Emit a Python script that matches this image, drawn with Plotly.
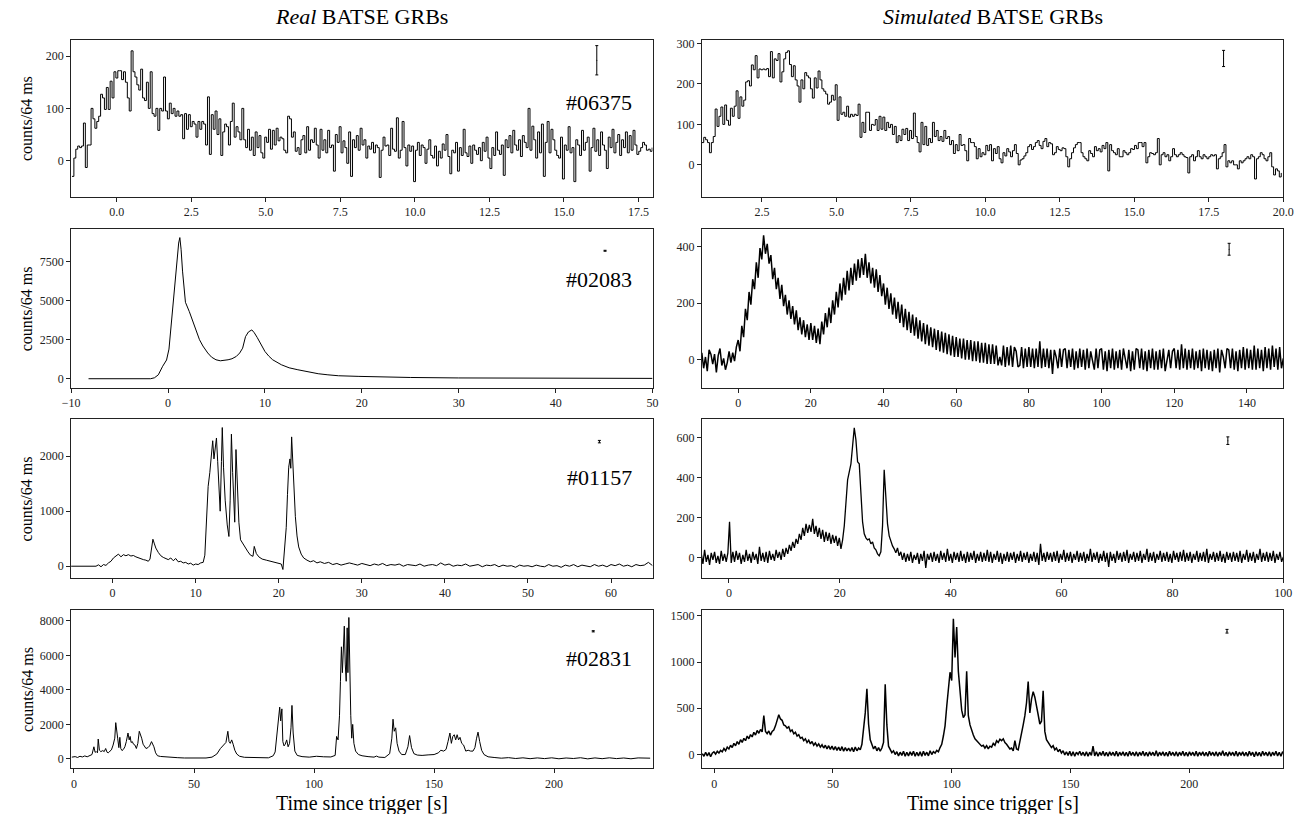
import plotly.graph_objects as go

W, H = 1313, 814
FONT = "Liberation Serif, DejaVu Serif, serif"

# ---------------- data (counts per 64 ms bin) ----------------
# Panel A: real GRB #06375, 64 ms bins starting at t0_a
t0_a, dt_a = -1.5, 0.064
counts_a = [
    -30, 5, 22, 28, 25, 28, 72, -13, 30, 30,
    100, 80, 62, 75, 85, 127, 120, 98, 140, 98,
    152, 120, 170, 158, 172, 172, 155, 170, 150, 120,
    95, 210, 170, 160, 145, 135, 175, 120, 115, 150,
    100, 170, 90, 85, 100, 58, 100, 95, 160, 95,
    80, 110, 90, 100, 85, 95, 85, 88, 42, 90,
    60, 88, 65, 75, 70, 45, 75, 60, 75, 70,
    30, 122, 12, 88, 60, 95, 50, 80, 10, 55,
    70, 65, 30, 75, 110, 45, 65, 55, 40, 100,
    40, 25, 60, 20, 45, 10, 55, 25, 48, 15,
    5, 45, 35, 60, 22, 58, 30, 62, 38, 45,
    42, 20, 15, 85, 80, 45, 55, 18, 25, 12,
    40, 48, 15, 65, 20, 40, 35, 62, 30, 5,
    60, 20, 40, 15, 58, 25, 30, -20, 50, 35,
    65, 15, 38, 25, -5, 55, -30, 40, 25, 48,
    20, 62, 30, 40, 5, 28, 22, 35, 15, 30,
    25, -32, 20, 45, 28, 30, 10, 62, 22, 18,
    82, 5, 20, 75, 25, -10, 30, 18, 28, -40,
    20, 35, 10, 30, 25, -5, 22, 40, 10, 5,
    28, -10, 18, 5, 32, 20, 50, 8, -25, 20,
    15, 35, -20, 25, 10, 60, 15, 8, 28, -5,
    30, 20, 12, 25, 0, 35, 18, 45, 5, -15,
    25, 10, 55, 20, 12, 30, -28, 40, 25, 48,
    15, 58, 30, 20, 40, 8, 48, 35, 25, 100,
    20, 66, 40, 5, 55, 15, 70, -30, 35, 75,
    15, 60, 40, 20, 10, 5, 45, -35, 30, 20,
    65, 15, 25, -40, 40, 30, 10, 58, 20, 35,
    45, -20, 25, 62, 18, 40, 10, 55, 30, 20,
    -15, 45, 25, 60, 15, 35, 50, 10, 40, 25,
    55, 15, 48, 20, 58, 30, 12, 18, 25, 35,
    30, 20, 22, 18, 25,
]

# Panel B: simulated counterpart of #06375, 64 ms bins
t0_b, dt_b = 0.48, 0.064
counts_b = [
    55, 68, 62, 55, 30, 55, 70, 138, 95, 120,
    143, 100, 148, 110, 98, 140, 120, 145, 183, 115,
    168, 145, 160, 205, 208, 195, 247, 235, 270, 215,
    237, 235, 237, 235, 238, 218, 280, 215, 262, 258,
    275, 205, 230, 262, 278, 282, 248, 218, 245, 210,
    195, 155, 210, 188, 228, 220, 215, 188, 165, 215,
    190, 232, 210, 188, 182, 175, 150, 155, 172, 160,
    198, 110, 168, 125, 130, 120, 145, 118, 125, 120,
    125, 122, 150, 68, 105, 80, 130, 130, 85, 100,
    98, 112, 85, 120, 88, 118, 85, 105, 92, 100,
    75, 95, 55, 72, 60, 88, 75, 90, 60, 85,
    65, 128, 70, 55, 32, 105, 50, 95, 48, 65,
    55, 105, 70, 85, 60, 70, 58, 85, 65, 70,
    50, 60, 28, 50, 35, 75, 48, 50, 35, 10,
    65, 55, 55, 45, 15, 40, 20, 30, 25, 48,
    35, 50, 10, 40, 28, 45, 15, 5, 30, 22,
    40, 32, 20, 35, 50, 28, 0, 12, 15, 22,
    30, 45, 50, 38, 45, 55, 60, 48, 40, 58,
    65, 45, 55, 52, 25, 30, 45, 38, 35, 42,
    40, 20, -5, 15, 30, 42, 50, 55, 55, 30,
    20, 15, 10, 35, 28, 20, 45, 35, 40, 32,
    48, 40, 55, -15, 50, 35, 30, 25, 40, 20,
    20, 35, 30, 25, 30, 40, 38, 48, 40, 55,
    55, 45, 55, 5, 20, 30, 28, 25, 30, 65,
    0, 25, 30, 20, 25, 10, 20, 40, 25, 20,
    25, 30, 25, 20, 18, -20, 20, 25, 10, 20,
    35, 20, 15, 25, 20, 15, 20, 25, 22, 25,
    -10, 15, 20, 30, 50, -5, 10, 5, 10, 0,
    0, -10, 10, 5, 10, 15, 20, 15, 25, 20,
    -35, 15, 20, 30, 25, 15, 10, 20, 30, -5,
    -25, -10, -15, -30, -20,
]

# Panel C: real GRB #02083, (time [s], counts) samples
curve_c = [
    (-8.2, 0), (-1.8, 0), (-1.4, 60), (-1.0, 250), (-0.55, 800), (-0.15, 1200),
    (0.1, 1900), (0.3, 3200), (0.5, 4800), (0.7, 6000), (0.9, 7600), (1.1, 8700),
    (1.22, 9050), (1.35, 8300), (1.5, 6900), (1.65, 5600), (1.8, 4900), (2.2, 4300),
    (2.6, 3600), (3.0, 2900), (3.25, 2500), (3.6, 2100), (4.1, 1650), (4.5, 1380),
    (4.95, 1215), (5.4, 1150), (5.8, 1170), (6.2, 1215), (6.6, 1280), (7.05, 1430),
    (7.4, 1650), (7.7, 1960), (8.0, 2700), (8.3, 3000), (8.65, 3130), (8.9, 2950),
    (9.2, 2650), (9.6, 2200), (10.0, 1750), (10.4, 1450), (10.8, 1215), (11.7, 895),
    (12.5, 700), (13.4, 575), (14.5, 430), (15.5, 320), (16.5, 250), (17.6, 190),
    (19.7, 150), (22.0, 110), (25.0, 80), (30.0, 50), (35.0, 40), (40.0, 30),
    (45.0, 25), (50.0, 20),
]

# Panel D: simulated counterpart of #02083, samples every 0.5 s
t0_d, dt_d = -10.0, 0.5
counts_d = [
    25, -30, 10, -40, 35, 20, -15, 20, -45, 15,
    40, -20, 5, -35, -10, 30, -10, 25, -5, 45,
    70, 30, 120, 80, 180, 140, 240, 195, 285, 250,
    345, 290, 395, 355, 440, 375, 410, 340, 370, 285,
    325, 250, 290, 215, 265, 190, 230, 160, 210, 145,
    190, 125, 175, 105, 150, 90, 140, 80, 125, 70,
    130, 70, 120, 60, 110, 55, 135, 90, 165, 115,
    185, 130, 210, 160, 240, 185, 270, 210, 290, 230,
    315, 245, 325, 265, 340, 280, 355, 290, 360, 300,
    375, 290, 345, 270, 325, 255, 320, 240, 300, 225,
    270, 195, 255, 180, 235, 160, 220, 145, 205, 130,
    195, 115, 180, 105, 170, 95, 160, 85, 150, 75,
    140, 65, 130, 55, 125, 50, 115, 45, 110, 35,
    105, 30, 100, 25, 95, 20, 90, 15, 85, 10,
    80, 10, 75, 5, 75, 0, 70, 0, 70, -5,
    65, -5, 65, -10, 60, -10, 60, -15, 55, -15,
    55, -15, 50, -20, 10, -20, 50, -25, 45, -20,
    50, -25, 45, 30, -25, -20, 45, -30, 40, -25,
    45, -25, 40, -30, 40, -25, 65, -30, 40, -25,
    40, -30, 35, -50, 35, 10, -30, 40, -25, 35,
    40, -30, 35, -25, 40, -35, 30, -30, 40, -25,
    35, -35, 40, -30, 30, -5, -35, 40, -30, 35,
    40, -35, 30, -40, 35, -30, 40, -35, 30, -30,
    35, -35, 40, 5, -30, 35, -40, 30, -35, 40,
    35, -30, 40, -35, 30, -40, 35, -30, 40, -35,
    30, -35, 35, -30, 40, -40, 0, 35, -30, 30,
    40, -30, 35, -35, 55, -30, 40, -35, 35, -30,
    40, -35, 30, -30, 35, -40, 40, -30, 35, -35,
    30, -40, 35, -30, 40, -45, 35, 10, -30, 40,
    35, -30, 40, -35, 30, -40, 35, -30, 45, -35,
    40, -30, 35, -35, 50, -35, 40, -30, 35, -40,
    45, -30, 40, -35, 50, -25, 40, -35, 45, -30, 5,
]

# Panel E: real GRB #01157, (time [s], counts) samples
curve_e = [
    (-5.0, 0), (-2.0, 0), (-1.7, 25), (-1.4, -10), (-1.1, 30), (-0.8, 15), (-0.5, 60),
    (-0.2, 90), (0.1, 150), (0.4, 190), (0.7, 220), (1.0, 170), (1.3, 210), (1.6, 190),
    (1.9, 210), (2.2, 185), (2.5, 195), (2.8, 170), (3.1, 150), (3.4, 140), (3.7, 120),
    (4.0, 110), (4.3, 90), (4.5, 130), (4.7, 380), (4.85, 490), (5.0, 420), (5.2, 330),
    (5.5, 250), (5.8, 190), (6.1, 160), (6.4, 140), (6.7, 120), (7.0, 150), (7.3, 100),
    (7.6, 140), (7.9, 80), (8.2, 90), (8.5, 60), (8.8, 70), (9.1, 40), (9.4, 55),
    (9.7, 20), (10.0, 40), (10.3, 30), (10.6, 60), (10.9, 70), (11.1, 200), (11.3, 800),
    (11.5, 1450), (11.7, 1700), (11.9, 2100), (12.05, 2280), (12.2, 1950), (12.35, 2100),
    (12.5, 2330), (12.65, 1900), (12.8, 1300), (12.95, 1000), (13.1, 1900), (13.2, 2520),
    (13.35, 1800), (13.55, 1200), (13.8, 750), (14.0, 540), (14.15, 1200), (14.3, 2400),
    (14.45, 1700), (14.6, 1000), (14.7, 800), (14.85, 2120), (15.0, 1400), (15.2, 800),
    (15.4, 480), (15.7, 400), (16.0, 330), (16.3, 260), (16.6, 200), (16.9, 180),
    (17.05, 360), (17.3, 230), (17.6, 170), (18.0, 130), (18.5, 110), (19.0, 90),
    (19.5, 70), (20.0, 60), (20.3, 40), (20.5, -60), (20.7, 300), (20.9, 700),
    (21.05, 1300), (21.2, 1800), (21.35, 1950), (21.45, 1780), (21.55, 2350), (21.7, 1800),
    (21.85, 1300), (22.0, 900), (22.2, 550), (22.4, 350), (22.7, 220), (23.0, 150),
    (23.4, 110), (23.8, 80), (24.2, 100), (24.6, 60), (25.0, 80), (25.5, 50), (26.0, 70),
    (26.5, 30), (27.0, 50), (27.5, 20), (28.0, 40), (28.5, 60), (29.0, 40), (29.5, 20),
    (30.0, 50), (30.5, 30), (31.0, 10), (31.5, 40), (32.0, 20), (32.5, 50), (33.0, 10),
    (33.5, 30), (34.0, 20), (34.5, 40), (35.0, 0), (35.5, 30), (36.0, 20), (36.5, 10),
    (37.0, 40), (37.5, 0), (38.0, 20), (38.5, 30), (39.0, 10), (39.5, 60), (40.0, 20),
    (40.5, 40), (41.0, 0), (41.5, 20), (42.0, 10), (42.5, 40), (43.0, 0), (43.5, 20),
    (44.0, 30), (44.5, -10), (45.0, 20), (45.5, 10), (46.0, 30), (46.5, -10), (47.0, 20),
    (47.5, 0), (48.0, 10), (48.5, -20), (49.0, 20), (49.5, 0), (50.0, 10), (50.5, -10),
    (51.0, 20), (51.5, 0), (52.0, -10), (52.5, 30), (53.0, 0), (53.5, 10), (54.0, -20),
    (54.5, 20), (55.0, 0), (55.5, 30), (56.0, -10), (56.5, 20), (57.0, 10), (57.5, -10),
    (58.0, 30), (58.5, 0), (59.0, 20), (59.5, -10), (60.0, 30), (60.5, 10), (61.0, 40),
    (61.5, 0), (62.0, 20), (62.5, -10), (63.0, 30), (63.5, 10), (64.0, 20), (64.5, 70),
    (65.0, 10),
]

# Panel F: simulated counterpart of #01157, samples every 0.3 s
t0_f, dt_f = -5.0, 0.3
counts_f = [
    20, -30, 40, -20, 15, -35, 25, -10, 30, -25,
    10, -30, 35, -15, 20, -20, 25, 180, -25, 30,
    -20, 35, -10, 25, -30, 15, -20, 40, -15, 20,
    -25, 30, -10, 20, -30, 55, -15, 25, -20, 30,
    -25, 35, -10, 20, -15, 40, 0, 30, -10, 45,
    5, 50, 20, 65, 35, 80, 50, 95, 70, 120,
    90, 150, 110, 170, 125, 165, 130, 195, 120, 160,
    105, 150, 95, 140, 80, 130, 85, 125, 70, 115,
    75, 110, 60, 100, 45, 90, 160, 260, 390, 430,
    470, 560, 650, 590, 480, 470, 300, 180, 120, 100,
    90, 95, 70, 80, 50, 40, 20, 10, 30, 160,
    440, 320, 170, 110, 80, 60, 45, 25, 50, 10,
    30, -10, 25, -20, 20, -15, 30, -25, 15, -10,
    25, -30, 20, -15, 35, -50, 20, -10, 25, -20,
    30, -15, 20, -25, 35, -10, 25, -20, 45, -15,
    20, -25, 30, -10, 25, -20, 35, -15, 20, -25,
    30, -20, 25, -10, 35, -25, 20, -15, 30, -20,
    25, -15, 40, -20, 30, -25, 20, -10, 35, -20,
    25, -30, 20, -15, 30, -20, 25, -10, 30, -25,
    20, -15, 35, -20, 25, -10, 30, -25, 20, -15,
    30, -20, 25, -35, 70, -15, 25, -20, 30, -10,
    25, -20, 30, -15, 35, -25, 20, -10, 40, -20,
    25, -15, 30, -25, 20, -10, 35, -20, 25, -15,
    30, -25, 20, -15, 45, -20, 25, -10, 30, -25,
    20, -15, 35, -20, 25, -45, 30, -15, 20, -25,
    35, -10, 25, -20, 30, -15, 40, -25, 20, -10,
    30, -20, 25, -15, 35, -25, 20, -10, 45, -20,
    25, -15, 30, -25, 20, -10, 35, -20, 25, -15,
    30, -20, 20, -25, 35, -10, 25, -20, 30, -15,
    40, -20, 25, -15, 30, -25, 20, -10, 35, -20,
    25, -15, 30, -20, 45, -25, 20, -10, 30, -20,
    25, -15, 35, -20, 20, -25, 30, -10, 25, -20,
    30, -15, 25, -20, 35, -25, 20, -10, 40, -20,
    25, -15, 30, -25, 20, -10, 45, -20, 25, -15,
    30, -20, 25, -15, 35, -25, 20, -10, 30, -20, 5,
]

# Panel G: real GRB #02831, (time [s], counts) samples
curve_g = [
    (-0.9, 100), (0.5, 130), (1.5, 80), (2.5, 150), (3.5, 110), (4.5, 170), (5.5, 120),
    (6.5, 200), (7.5, 250), (8.3, 700), (8.8, 380), (9.3, 420), (9.8, 350), (10.1, 1150),
    (10.6, 500), (11.2, 420), (12.0, 480), (12.6, 420), (13.2, 600), (13.8, 380),
    (14.3, 350), (15.0, 450), (15.6, 520), (16.3, 800), (17.0, 1200), (17.4, 2100),
    (17.8, 1500), (18.2, 1200), (18.7, 650), (19.1, 1250), (19.5, 600), (20.0, 480),
    (20.6, 550), (21.2, 700), (21.8, 1000), (22.5, 1500), (23.0, 1100), (23.4, 1300),
    (23.8, 950), (24.3, 1000), (24.8, 850), (25.4, 800), (26.0, 600), (26.6, 900),
    (27.2, 1600), (27.7, 1450), (28.2, 1200), (28.8, 850), (29.4, 700), (30.0, 600),
    (30.8, 650), (31.5, 750), (32.3, 1000), (32.8, 850), (33.3, 700), (34.0, 350),
    (34.8, 180), (36.0, 140), (38.0, 110), (40.0, 90), (43.0, 70), (46.0, 50),
    (49.0, 40), (52.0, 35), (55.0, 50), (57.5, 100), (59.5, 280), (61.0, 600),
    (62.3, 800), (63.3, 950), (64.1, 1600), (64.6, 1000), (65.1, 900), (65.7, 1100),
    (66.3, 850), (67.0, 500), (67.8, 280), (69.0, 150), (71.0, 90), (74.0, 70),
    (78.0, 50), (81.0, 60), (83.0, 180), (83.8, 400), (84.6, 1500), (85.2, 2300),
    (85.7, 3000), (86.1, 2200), (86.6, 2900), (87.0, 1000), (87.5, 750), (88.0, 850),
    (88.6, 1100), (89.2, 700), (89.8, 900), (90.4, 1800), (90.8, 3100), (91.3, 1500),
    (92.0, 450), (93.0, 200), (95.0, 130), (98.0, 100), (101.0, 150), (104.0, 120),
    (107.0, 110), (108.8, 200), (109.4, 1300), (110.0, 1100), (110.6, 2500), (111.0, 4500),
    (111.4, 6500), (111.8, 5000), (112.2, 6000), (112.6, 7700), (113.0, 5500),
    (113.4, 4500), (113.8, 7600), (114.1, 5000), (114.5, 8200), (114.9, 4000),
    (115.3, 2500), (115.7, 1200), (116.1, 2000), (116.6, 900), (117.3, 450), (118.5, 250),
    (120.0, 180), (122.5, 130), (125.0, 100), (126.0, 160), (127.0, 100), (129.5, 80),
    (131.5, 300), (132.4, 1200), (132.9, 2300), (133.4, 1600), (134.0, 1800), (134.6, 900),
    (135.4, 450), (136.5, 250), (138.0, 250), (139.1, 700), (139.8, 1350), (140.6, 650),
    (141.6, 300), (143.0, 220), (145.0, 200), (147.5, 230), (150.0, 250), (151.8, 350),
    (152.8, 500), (154.0, 450), (155.0, 550), (155.8, 1000), (156.6, 1500), (157.2, 900),
    (157.8, 1300), (158.4, 1400), (159.0, 1100), (159.6, 1400), (160.2, 1100),
    (160.8, 1250), (161.5, 900), (162.3, 800), (163.2, 450), (164.2, 500), (165.2, 450),
    (166.2, 450), (167.0, 650), (167.7, 1200), (168.3, 1550), (169.0, 1000), (169.8, 500),
    (170.8, 250), (172.5, 120), (175.0, 80), (178.0, 40), (181.0, 70), (184.0, 20),
    (187.0, 60), (190.0, 10), (193.0, 55), (196.0, 15), (199.0, 60), (202.0, 5),
    (205.0, 50), (208.0, 20), (211.0, 65), (214.0, 0), (217.0, 55), (220.0, 10),
    (223.0, 60), (226.0, 15), (229.0, 50), (232.0, 5), (235.0, 55), (238.0, 20),
    (240.0, 40),
]

# Panel H: simulated counterpart of #02831, samples every 0.7 s
t0_h, dt_h = -5.0, 0.7
counts_h = [
    10, -20, 25, -15, 20, -25, 15, 30, 5, 35,
    15, 45, 30, 65, 40, 80, 60, 100, 75, 120,
    95, 140, 110, 160, 130, 175, 150, 200, 170, 215,
    190, 240, 210, 260, 230, 270, 245, 420, 250, 225,
    255, 210, 250, 265, 310, 370, 430, 385, 370, 320,
    310, 285, 300, 250, 265, 225, 240, 200, 215, 175,
    185, 150, 170, 130, 155, 115, 140, 100, 125, 90,
    115, 80, 105, 70, 100, 60, 95, 55, 90, 50,
    85, 45, 80, 40, 85, 35, 75, 40, 70, 35,
    75, 30, 80, 40, 70, 50, 110, 280, 450, 710,
    330, 160, 110, 60, 90, 40, 75, 35, 70, 130,
    760, 320, 90, 50, 20, 40, 0, 30, -15, 25,
    -10, 35, -20, 25, -15, 30, -10, 35, -20, 25,
    -15, 30, -20, 35, -10, 25, -15, 40, 0, 30,
    15, 45, 30, 75, 110, 200, 310, 520, 730, 890,
    800, 1470, 1050, 1380, 900, 720, 480, 400, 430, 900,
    420, 320, 250, 210, 170, 150, 120, 110, 90, 100,
    70, 95, 60, 90, 80, 120, 100, 150, 130, 165,
    150, 170, 130, 110, 80, 60, 70, 40, 150, 60,
    50, 130, 240, 320, 420, 560, 790, 450, 600, 680,
    620, 500, 430, 330, 360, 690, 250, 160, 130, 100,
    75, 95, 50, 70, 30, 55, 15, 40, -5, 30,
    -10, 35, -15, 30, -20, 25, 0, 35, -10, 25,
    -15, 30, -20, 25, -10, 90, -15, 30, -20, 25,
    -10, 35, -15, 25, -20, 30, -10, 25, -15, 35,
    -20, 25, -10, 30, -15, 25, -20, 35, -10, 25,
    -15, 30, -20, 25, -10, 35, -15, 25, -20, 30,
    -10, 25, -15, 40, -20, 25, -10, 30, -15, 25,
    -20, 35, -10, 25, -15, 30, -20, 25, -10, 35,
    -15, 25, -20, 30, -10, 25, -15, 35, -20, 25,
    -10, 30, -15, 25, -20, 35, -10, 25, -15, 30,
    -20, 25, -10, 40, -15, 25, -20, 30, -10, 25,
    -15, 35, -20, 25, -10, 30, -15, 25, -20, 35,
    -10, 25, -25, 30, -15, 25, -20, 35, -10, 25,
    -15, 30, -20, 25, -10, 35, -15, 25, -20, 30, 5,
]

# representative error bars: (time, counts, half-length)
errbars = {
    "a": (16.1, 192, 28), "b": (18.0, 263, 20),
    "c": (45.1, 8205, 30), "d": (135.1, 391, 21),
    "e": (58.6, 2264, 22), "f": (90.0, 586, 19),
    "g": (216.3, 7400, 35), "h": (215.9, 1334, 20),
}
burst_ids = ["#06375", "#02083", "#01157", "#02831"]
col_titles = ["Real", "Simulated"]

# ---------------- layout helpers ----------------
col_px = [(63, 653), (703, 1293)]
row_px = [(37, 194.5), (227, 386.5), (418, 577), (609.5, 768)]


def uniform_times(t0, dt, n):
    return [t0 + dt * i for i in range(n)]


series = {
    "a": (uniform_times(t0_a, dt_a, len(counts_a)), counts_a, "hv", 1.0),
    "b": (uniform_times(t0_b, dt_b, len(counts_b)), counts_b, "hv", 1.0),
    "c": ([p[0] for p in curve_c], [p[1] for p in curve_c], "linear", 1.0),
    "d": (uniform_times(t0_d, dt_d, len(counts_d)), counts_d, "linear", 1.5),
    "e": ([p[0] for p in curve_e], [p[1] for p in curve_e], "linear", 1.0),
    "f": (uniform_times(t0_f, dt_f, len(counts_f)), counts_f, "linear", 1.3),
    "g": ([p[0] for p in curve_g], [p[1] for p in curve_g], "linear", 1.0),
    "h": (uniform_times(t0_h, dt_h, len(counts_h)), counts_h, "linear", 1.5),
}

# key, row, col, x range, x dtick, x format, y range, y dtick
panels = [
    ("a", 0, 0, [-1.53, 17.97], 2.5, ".1f", [-69, 231], 100),
    ("b", 0, 1, [0.48, 20.005], 2.5, ".1f", [-79, 309], 100),
    ("c", 1, 0, [-10.001, 50.001], 10, "d", [-600, 9590], 2500),
    ("d", 1, 1, [-10, 150], 20, "d", [-100, 462], 200),
    ("e", 2, 0, [-5, 65], 10, "d", [-212, 2667], 1000),
    ("f", 2, 1, [-4.9, 100.001], 20, "d", [-100, 692], 200),
    ("g", 3, 0, [-1.2, 241], 50, "d", [-540, 8620], 2000),
    ("h", 3, 1, [-5.2, 239.6], 50, "d", [-148, 1561], 500),
]

fig = go.Figure()
axis_style = dict(
    showgrid=False, zeroline=False, showline=True, mirror=True,
    linecolor="#222", linewidth=1, ticks="outside", ticklen=4,
    tickwidth=1, tickcolor="#222",
    tickfont=dict(family=FONT, size=12, color="#222"),
)

layout_axes = {}
for k, (key, r, c, xr, xdt, xfmt, yr, ydt) in enumerate(panels, start=1):
    xs, ys, shape, lw = series[key]
    xa = "x" if k == 1 else f"x{k}"
    ya = "y" if k == 1 else f"y{k}"
    fig.add_trace(go.Scatter(
        x=xs, y=ys, mode="lines", xaxis=xa, yaxis=ya,
        line=dict(color="black", width=lw, shape=shape),
        showlegend=False, hoverinfo="skip",
    ))
    ex, ey, ee = errbars[key]
    fig.add_trace(go.Scatter(
        x=[ex], y=[ey], mode="markers", xaxis=xa, yaxis=ya,
        marker=dict(size=1, color="black"),
        error_y=dict(type="data", array=[ee], color="black", thickness=1, width=1.5),
        showlegend=False, hoverinfo="skip",
    ))
    x0, x1 = col_px[c]
    y0, y1 = row_px[r]
    layout_axes["xaxis" if k == 1 else f"xaxis{k}"] = dict(
        axis_style, domain=[x0 / W, x1 / W], range=xr, tick0=0, dtick=xdt,
        tickformat=xfmt, anchor=ya,
    )
    layout_axes["yaxis" if k == 1 else f"yaxis{k}"] = dict(
        axis_style, domain=[1 - y1 / H, 1 - y0 / H], range=yr, tick0=0, dtick=ydt,
        tickformat="d", anchor=xa,
    )

annotations = []
for c, word in enumerate(col_titles):
    x0, x1 = col_px[c]
    xc = (x0 + x1) / 2 / W
    annotations.append(dict(
        text=f"<i>{word}</i> BATSE GRBs", x=xc, y=1 - 14 / H, xref="paper", yref="paper",
        xanchor="center", yanchor="middle", showarrow=False,
        font=dict(family=FONT, size=22, color="black"),
    ))
    annotations.append(dict(
        text="Time since trigger [s]", x=xc, y=1 - 803 / H, xref="paper", yref="paper",
        xanchor="center", yanchor="middle", showarrow=False,
        font=dict(family=FONT, size=20, color="black"),
    ))

id_y = [100, 278, 476, 658]
for r, bid in enumerate(burst_ids):
    y0, y1 = row_px[r]
    annotations.append(dict(
        text=bid, x=634 / W, y=1 - id_y[r] / H, xref="paper", yref="paper",
        xanchor="right", yanchor="middle", showarrow=False,
        font=dict(family=FONT, size=22, color="black"),
    ))
    annotations.append(dict(
        text="counts/64 ms", x=18 / W, y=1 - (y0 + y1) / 2 / H, xref="paper", yref="paper",
        xanchor="center", yanchor="middle", showarrow=False, textangle=-90,
        font=dict(family=FONT, size=16, color="black"),
    ))

fig.update_layout(
    width=W, height=H, margin=dict(l=0, r=0, t=0, b=0),
    paper_bgcolor="white", plot_bgcolor="white",
    annotations=annotations, **layout_axes,
)

fig.write_html(
    "out.html",
    config={"displayModeBar": False, "staticPlot": True},
    post_script="document.body.style.margin='0';document.body.style.padding='0';"
                "document.body.style.overflow='hidden';",
)
